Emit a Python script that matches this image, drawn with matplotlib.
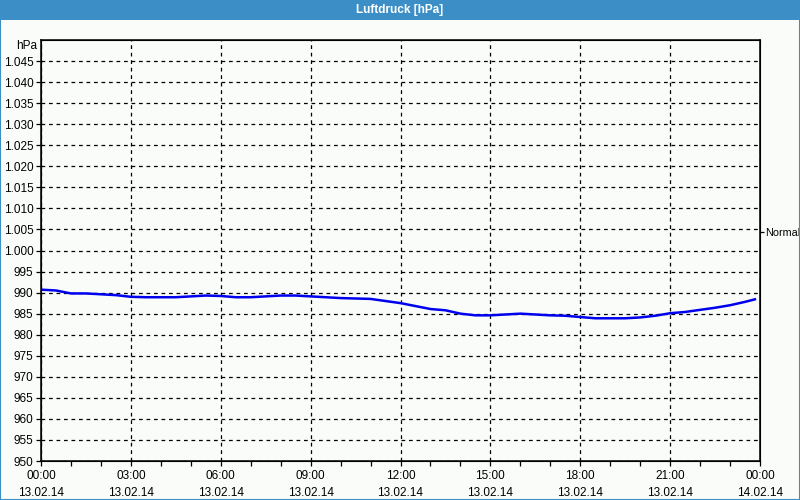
import matplotlib
matplotlib.use("Agg")
import matplotlib.pyplot as plt
from matplotlib.patches import Rectangle

plt.rcParams['font.family'] = ['Liberation Sans', 'DejaVu Sans']

# Data (hours since 13.02.14 00:00, pressure hPa)
hours = [0, 0.5, 1, 1.5, 2, 2.5, 3, 3.5, 4, 4.5, 5, 5.5, 6, 6.5, 7, 7.5, 8, 8.5, 9, 9.5,
         10, 10.5, 11, 11.5, 12, 12.5, 13, 13.5, 14, 14.5, 15, 15.5, 16, 16.5, 17, 17.5,
         18, 18.5, 19, 19.5, 20, 20.5, 21, 21.5, 22, 22.5, 23, 23.5, 23.83]
pressure = [990.7, 990.5, 989.8, 989.8, 989.6, 989.4, 989.0, 988.9, 988.9, 988.9, 989.1, 989.3,
            989.2, 988.9, 988.9, 989.1, 989.3, 989.3, 989.1, 988.9, 988.7, 988.6, 988.5, 988.0,
            987.5, 986.8, 986.1, 985.8, 985.0, 984.6, 984.6, 984.8, 985.0, 984.8, 984.6, 984.5,
            984.2, 983.9, 983.9, 983.9, 984.1, 984.5, 985.1, 985.4, 985.9, 986.4, 987.0, 987.8, 988.4]

y_ticks = list(range(950, 1050, 5))
y_labels = [str(v) if v < 1000 else "1.%03d" % (v - 1000) for v in y_ticks]
x_ticks = [0, 3, 6, 9, 12, 15, 18, 21, 24]
x_labels = ["00:00\n13.02.14", "03:00\n13.02.14", "06:00\n13.02.14", "09:00\n13.02.14",
            "12:00\n13.02.14", "15:00\n13.02.14", "18:00\n13.02.14", "21:00\n13.02.14",
            "00:00\n14.02.14"]
normal_value = 1004.5
title = "Luftdruck [hPa]"

bg = "#fafcfa"
bar_col = "#3c8fc6"

fig = plt.figure(figsize=(8, 5), dpi=100, facecolor=bg)
# title bar and border
fig.patches.append(Rectangle((0, 0.96), 1, 0.04, transform=fig.transFigure,
                             facecolor=bar_col, edgecolor="none", zorder=0))
fig.patches.append(Rectangle((0.0006, 0.001), 0.9988, 0.998, transform=fig.transFigure,
                             facecolor="none", edgecolor=bar_col, linewidth=1.5, zorder=0))
fig.text(0.5, 0.979, title, color="white", fontsize=8.5, fontweight="bold",
         ha="center", va="center")

ax = fig.add_axes([41 / 800, 1 - 461 / 500, 719 / 800, 421 / 500])
ax.set_facecolor(bg)
ax.plot(hours, pressure, color="#0000ee", linewidth=1.8, zorder=3)
ax.set_xlim(0, 24)
ax.set_ylim(950, 1050)
ax.set_yticks(y_ticks)
ax.set_yticklabels(y_labels)
ax.set_xticks(x_ticks)
ax.set_xticklabels(x_labels, linespacing=1.6)
ax.set_xticks(range(0, 25), minor=True)
ax.grid(True, which="major", color="black", linestyle=(0, (3, 3)), linewidth=0.9)
ax.tick_params(axis="both", which="both", direction="out", length=3.5, width=0.9,
               labelsize=8.5, colors="black", pad=2)
ax.tick_params(axis="x", which="major", pad=3)
for s in ax.spines.values():
    s.set_linewidth(1.1)
ax.text(-0.005, 1050 - 1.4, "hPa", transform=ax.get_yaxis_transform(),
        ha="right", va="center", fontsize=8.5)

ax2 = ax.twinx()
ax2.set_ylim(950, 1050)
ax2.set_yticks([normal_value])
ax2.set_yticklabels(["Normal"])
ax2.tick_params(axis="y", direction="out", length=3, width=0.9, labelsize=7.8, pad=1)

fig.savefig("out.png", dpi=100, facecolor=bg)
